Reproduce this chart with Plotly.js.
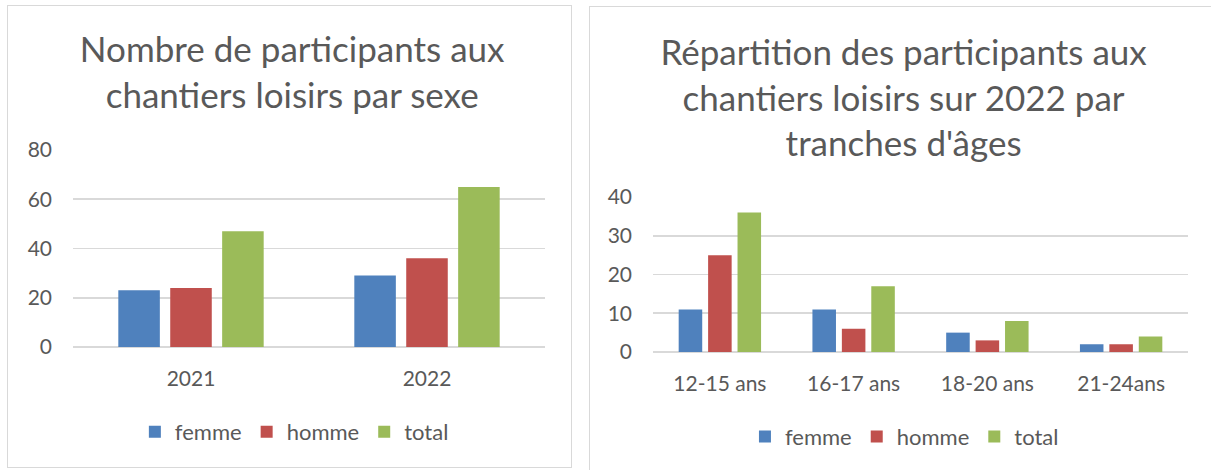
<!DOCTYPE html>
<html>
<head>
<meta charset="utf-8">
<script src="https://cdn.plot.ly/plotly-3.0.1.min.js"></script>
<style>
  html, body { margin: 0; padding: 0; background: #ffffff; overflow: hidden; width: 1211px; height: 470px; }
  #left { position: absolute; left: 7px; top: 5px; width: 565px; height: 463px; border: 1.5px solid #d9d9d9; box-sizing: border-box; }
  #right { position: absolute; left: 589px; top: 6px; width: 640px; height: 480px; border: 1.5px solid #d9d9d9; box-sizing: border-box; }
</style>
</head>
<body>
<div id="left"></div>
<div id="right"></div>
<script>
// ---- Data: chart 1 (par sexe)
const years = ["2021", "2022"];
const femmeSexe = [23, 29];
const hommeSexe = [24, 36];
const totalSexe = [47, 65];

// ---- Data: chart 2 (tranches d'âges, 2022)
const ageGroups = ["12-15 ans", "16-17 ans", "18-20 ans", "21-24ans"];
const femmeAge = [11, 11, 5, 2];
const hommeAge = [25, 6, 3, 2];
const totalAge = [36, 17, 8, 4];

const seriesNames = ["femme", "homme", "total"];
const colors = ["#4f81bd", "#c0504d", "#9bbb59"];

const FONT = "Lato, 'Open Sans', sans-serif";
const TXT = "#595959";
const GRID = "#d9d9d9";

function bars(x, ys) {
  return ys.map((y, i) => ({
    type: "bar", x: x, y: y, name: seriesNames[i],
    marker: { color: colors[i], line: { width: 0 } },
    hoverinfo: "skip"
  }));
}

function baseLayout(opts) {
  return {
    width: opts.w, height: opts.h,
    paper_bgcolor: "rgba(0,0,0,0)", plot_bgcolor: "rgba(0,0,0,0)",
    margin: opts.margin,
    font: { family: FONT, color: TXT, size: 21 },
    barmode: "group", bargap: 0.34, bargroupgap: 0.2,
    title: {
      text: opts.title, x: opts.titleX, xanchor: "center",
      yref: "container", y: opts.titleY, yanchor: "top",
      font: { family: FONT, size: 35, color: TXT }
    },
    xaxis: {
      type: "category", showgrid: false, showline: false, zeroline: false,
      ticks: "", ticklabelstandoff: 17,
      tickfont: { family: FONT, size: 21, color: TXT }, fixedrange: true
    },
    yaxis: {
      range: opts.yrange, dtick: opts.dtick, tick0: 0,
      showgrid: true, gridcolor: GRID, gridwidth: 1.8,
      zeroline: true, zerolinecolor: GRID, zerolinewidth: 1.8,
      showline: false, ticks: "", ticklabelstandoff: 20,
      tickfont: { family: FONT, size: 21, color: TXT }, fixedrange: true
    },
    showlegend: true,
    legend: {
      orientation: "h", x: opts.legX, xanchor: "center",
      yref: "container", y: opts.legY, yanchor: "middle",
      font: { family: FONT, size: 22, color: TXT },
      bgcolor: "rgba(0,0,0,0)", traceorder: "normal", itemclick: false, itemdoubleclick: false
    }
  };
}

Plotly.newPlot("left", bars(years, [femmeSexe, hommeSexe, totalSexe]), baseLayout({
  w: 565, h: 463,
  margin: { l: 65, r: 28, t: 144, b: 122 },
  title: "Nombre de participants aux<br>chantiers loisirs par sexe",
  titleX: 0.503, titleY: 0.878,
  yrange: [0, 80], dtick: 20,
  legX: 0.469, legY: 0.08
}), { displayModeBar: false, staticPlot: true });

Plotly.newPlot("right", bars(ageGroups, [femmeAge, hommeAge, totalAge]), baseLayout({
  w: 640, h: 480,
  margin: { l: 63, r: 42, t: 190, b: 135 },
  title: "Répartition des participants aux<br>chantiers loisirs sur 2022 par<br>tranches d'âges",
  titleX: 0.49, titleY: 0.879,
  yrange: [0, 40], dtick: 10,
  legX: 0.47, legY: 0.105
}), { displayModeBar: false, staticPlot: true });
</script>
</body>
</html>
